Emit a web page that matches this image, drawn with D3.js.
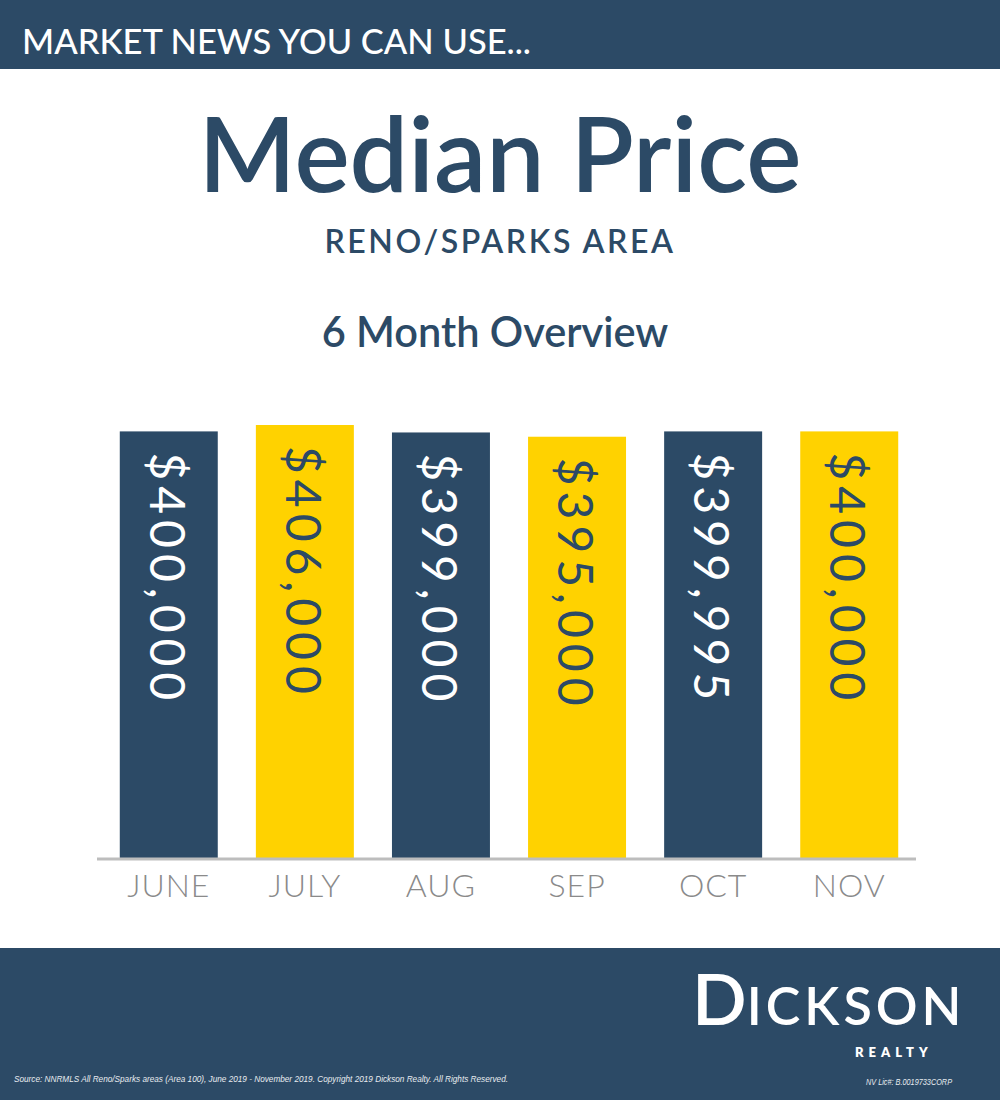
<!DOCTYPE html>
<head>
  <meta charset="utf-8">
</head>
<style>
body {
  margin: 0;
  background: #ffffff;
}
svg {
  display: block;
}
.bar-label {
  font-family: "Lato", "Open Sans", sans-serif;
  font-weight: 400;
}
</style>
<body>
<script src="https://d3js.org/d3.v7.min.js"></script>
<script>
var width = 1000,
    height = 1100;

var navy = "#2c4a66",
    yellow = "#ffd200";

// data
var months = ["JUNE", "JULY", "AUG", "SEP", "OCT", "NOV"];
var prices = [400000, 406000, 399000, 395000, 399995, 400000];
var priceLabels = ["$400,000", "$406,000", "$399,000", "$395,000", "$399,995", "$400,000"];
var barColors = [navy, yellow, navy, yellow, navy, yellow];
var labelColors = ["#ffffff", navy, "#ffffff", navy, "#ffffff", navy];

var svg = d3.select("body").append("svg")
  .attr("width", width)
  .attr("height", height);

// header band
svg.append("rect")
  .attr("x", 0)
  .attr("y", 0)
  .attr("width", width)
  .attr("height", 69)
  .style("fill", navy);

svg.append("text")
  .attr("x", 22)
  .attr("y", 54)
  .attr("font-family", "Lato, sans-serif")
  .attr("font-weight", 500)
  .attr("font-size", 34.5)
  .style("fill", "#ffffff")
  .text("MARKET NEWS YOU CAN USE...");

// titles
svg.append("text")
  .attr("x", 500)
  .attr("y", 192)
  .attr("text-anchor", "middle")
  .attr("font-family", "Lato, sans-serif")
  .attr("font-weight", 600)
  .attr("font-size", 104)
  .style("fill", navy)
  .text("Median Price");

svg.append("text")
  .attr("x", 500)
  .attr("y", 253)
  .attr("text-anchor", "middle")
  .attr("font-family", "Lato, sans-serif")
  .attr("font-weight", 600)
  .attr("font-size", 32)
  .attr("letter-spacing", 2.6)
  .style("fill", navy)
  .text("RENO/SPARKS AREA");

svg.append("text")
  .attr("x", 495)
  .attr("y", 347)
  .attr("text-anchor", "middle")
  .attr("font-family", "Lato, sans-serif")
  .attr("font-weight", 600)
  .attr("font-size", 41.5)
  .style("fill", navy)
  .text("6 Month Overview");

// chart
var x = d3.scaleBand()
  .domain(months)
  .range([98, 920])
  .paddingInner(0.28)
  .paddingOuter(0.16);

var y = d3.scaleLinear()
  .domain([0, 406000])
  .range([858, 425]);

var chart = svg.append("g");

chart.selectAll(".bar")
  .data(prices)
  .enter().append("rect")
  .attr("class", "bar")
  .attr("x", function(d, i) { return x(months[i]); })
  .attr("y", function(d) { return y(d); })
  .attr("width", x.bandwidth())
  .attr("height", function(d) { return y(0) - y(d); })
  .style("fill", function(d, i) { return barColors[i]; });

chart.selectAll(".bar-label")
  .data(prices)
  .enter().append("text")
  .attr("class", "bar-label")
  .attr("transform", function(d, i) {
    var cx = x(months[i]) + x.bandwidth() / 2;
    return "translate(" + (cx - 19) + "," + (y(d) + 21) + ") rotate(90)";
  })
  .attr("font-size", 48)
  .attr("letter-spacing", 6)
  .style("fill", function(d, i) { return labelColors[i]; })
  .text(function(d, i) { return priceLabels[i]; });

// baseline
chart.append("line")
  .attr("x1", 97)
  .attr("x2", 916)
  .attr("y1", y(0) + 1)
  .attr("y2", y(0) + 1)
  .style("stroke", "#bdbdbd")
  .style("stroke-width", 3);

var xAxis = d3.axisBottom(x).tickSize(0).tickPadding(0);

var axisG = chart.append("g")
  .attr("transform", "translate(0," + 897 + ")")
  .call(xAxis);

axisG.select(".domain").remove();
axisG.selectAll("text")
  .attr("y", 0)
  .attr("dy", 0)
  .attr("font-size", 32)
  .attr("letter-spacing", 1)
  .style("font-family", "Lato, sans-serif")
  .style("font-weight", 300)
  .style("fill", "#8a8a8a");

// footer band
svg.append("rect")
  .attr("x", 0)
  .attr("y", 948)
  .attr("width", width)
  .attr("height", height - 948)
  .style("fill", navy);

var logo = svg.append("text")
  .attr("x", 692)
  .attr("y", 1025)
  .attr("font-family", "Lato, sans-serif")
  .attr("font-weight", 600)
  .style("fill", "#ffffff");

logo.append("tspan")
  .attr("font-size", 72)
  .text("D");

logo.append("tspan")
  .attr("font-size", 52)
  .attr("letter-spacing", 4)
  .text("ICKSON");

svg.append("text")
  .attr("x", 855)
  .attr("y", 1057)
  .attr("font-family", "Lato, sans-serif")
  .attr("font-weight", 800)
  .attr("font-size", 13)
  .attr("letter-spacing", 5)
  .style("fill", "#ffffff")
  .text("REALTY");

svg.append("text")
  .attr("x", 14)
  .attr("y", 1082)
  .attr("font-family", "'Liberation Sans Narrow', 'Liberation Sans', sans-serif")
  .attr("font-style", "italic")
  .attr("font-size", 9)
  .attr("textLength", 494)
  .attr("lengthAdjust", "spacingAndGlyphs")
  .style("fill", "#e8ecf0")
  .text("Source: NNRMLS All Reno/Sparks areas (Area 100), June 2019 - November 2019. Copyright 2019 Dickson Realty. All Rights Reserved.");

svg.append("text")
  .attr("x", 866)
  .attr("y", 1085)
  .attr("font-family", "'Liberation Sans Narrow', 'Liberation Sans', sans-serif")
  .attr("font-style", "italic")
  .attr("font-size", 9)
  .attr("textLength", 86)
  .attr("lengthAdjust", "spacingAndGlyphs")
  .style("fill", "#e8ecf0")
  .text("NV Lic#: B.0019733CORP");
</script>
</body>
